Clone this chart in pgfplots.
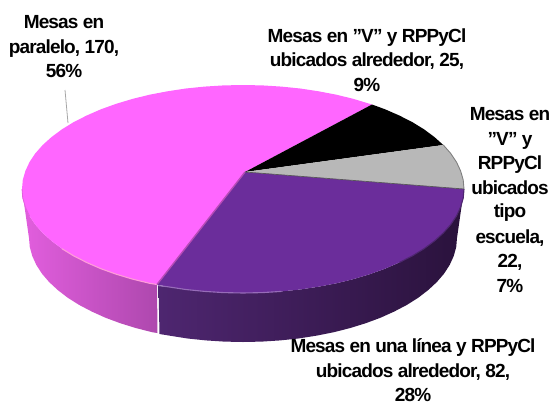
\documentclass[border=0pt]{standalone}
\usepackage{fontspec}
\setmainfont{Liberation Sans}[LetterSpace=-4.5]
\usepackage{pgfplots}
\pgfplotsset{compat=1.18}
\definecolor{cpink}{HTML}{FF66FF}
\definecolor{cpurple}{HTML}{6B2D9B}
\definecolor{cgrey}{HTML}{B8B8B8}
\definecolor{pinkL}{HTML}{E25EDE}
\definecolor{pinkR}{HTML}{AE48AE}
\definecolor{purpL}{HTML}{4E2670}
\definecolor{purpR}{HTML}{2A123C}
\newcommand{\lab}[3]{\node[anchor=base,inner sep=0pt,font=\fontsize{19}{24}\selectfont\bfseries] at (axis cs:#1,#2) {#3};}
\begin{document}
\begin{tikzpicture}
\useasboundingbox (0,0) rectangle (551pt,402pt);
\begin{axis}[
  at={(0,0)},anchor=south west,
  scale only axis,width=551pt,height=402pt,
  xmin=0,xmax=551,ymin=0,ymax=402,y dir=reverse,
  hide axis,clip=false]
% sides
\addplot[draw=none,left color=pinkL,right color=pinkR] coordinates {
(22,189)(22.8,198.1)(25.4,207.1)(29.5,215.9)(35.3,224.6)(42.7,233)(51.6,241)(62,248.7)(73.7,255.9)(86.7,262.5)(100.9,268.7)(116.2,274.2)(132.5,279.1)(149.6,283.3)(157,284.5)
(157.5,333)(152.6,332.3)(136,328.1)(120.2,323.2)(105.4,317.7)(91.7,311.5)(79.1,304.9)(67.7,297.7)(57.7,290)(49.1,282)(41.9,273.6)(36.3,264.9)(32.3,256.1)(29.8,247.1)(29,238)(22,189)};
\addplot[draw=none,left color=purpL,right color=purpR] coordinates {
(158.5,286)(167.4,286.7)(185.8,289.5)(204.6,291.4)(223.7,292.6)(243,293)(262.3,292.6)(281.4,291.4)(300.2,289.5)(318.6,286.7)(336.4,283.3)(353.5,279.1)(369.8,274.2)(385.1,268.7)(399.3,262.5)(412.3,255.9)(424,248.7)(434.4,241)(443.3,233)(450.7,224.6)(456.5,215.9)(460.6,207.1)(463.2,198.1)(464,189)
(457,238)(456.2,247.1)(453.7,256.1)(449.7,264.9)(444.1,273.6)(436.9,282)(428.3,290)(418.3,297.7)(406.9,304.9)(394.3,311.5)(380.6,317.7)(365.8,323.2)(350,328.1)(333.4,332.3)(316.2,335.7)(298.4,338.5)(280.2,340.4)(261.7,341.6)(243,342)(224.3,341.6)(205.8,340.4)(187.6,338.5)(169.8,335.7)(159.5,334)(158.5,286)};
% top slices
\addplot[fill=cpink,draw=none] coordinates {
(245,172)(372,104.5)(353.5,98.9)(336.4,94.7)(318.6,91.3)(300.2,88.5)(281.4,86.6)(262.3,85.4)(243,85)(223.7,85.4)(204.6,86.6)(185.8,88.5)(167.4,91.3)(149.6,94.7)(132.5,98.9)(116.2,103.8)(100.9,109.3)(86.7,115.5)(73.7,122.1)(62,129.3)(51.6,137)(42.7,145)(35.3,153.4)(29.5,162.1)(25.4,170.9)(22.8,179.9)(22,189)(22.8,198.1)(25.4,207.1)(29.5,215.9)(35.3,224.6)(42.7,233)(51.6,241)(62,248.7)(73.7,255.9)(86.7,262.5)(100.9,268.7)(116.2,274.2)(132.5,279.1)(149.6,283.3)(157,284.5)(245,172)};
\addplot[fill=black,draw=none] coordinates {
(245,172)(443.3,145)(434.4,137)(424,129.3)(412.3,122.1)(399.3,115.5)(385.1,109.3)(372,104.5)(245,172)};
\addplot[fill=cgrey,draw=none] coordinates {
(245,172)(464,189)(463.2,179.9)(460.6,170.9)(456.5,162.1)(450.7,153.4)(443.3,145)(245,172)};
\addplot[fill=cpurple,draw=none] coordinates {
(245,172)(157,284.5)(167.4,286.7)(185.8,289.5)(204.6,291.4)(223.7,292.6)(243,293)(262.3,292.6)(281.4,291.4)(300.2,289.5)(318.6,286.7)(336.4,283.3)(353.5,279.1)(369.8,274.2)(385.1,268.7)(399.3,262.5)(412.3,255.9)(424,248.7)(434.4,241)(443.3,233)(450.7,224.6)(456.5,215.9)(460.6,207.1)(463.2,198.1)(464,189)(245,172)};
% rims
\addplot[color=pink!60!cpink,line width=1.1pt] coordinates {
(62,248.7)(73.7,255.9)(86.7,262.5)(100.9,268.7)(116.2,274.2)(132.5,279.1)(149.6,283.3)(157,284.5)};
\addplot[color=pinkL,line width=0.8pt] coordinates {
(22,189)(22.8,198.1)(25.4,207.1)(29.5,215.9)};
\addplot[color=cpurple!70!white,line width=1.1pt] coordinates {
(158,285.5)(167.4,286.7)(185.8,289.5)(204.6,291.4)(223.7,292.6)(243,293)(262.3,292.6)(281.4,291.4)};
\addplot[color=purpL,line width=1.1pt] coordinates {
(399.3,262.5)(412.3,255.9)(424,248.7)(434.4,241)(443.3,233)(450.7,224.6)(456.5,215.9)(460.6,207.1)(463.2,198.1)(464,189)};
\addplot[color=gray,line width=0.9pt] coordinates {(464,189)(463.2,179.9)(460.6,170.9)(456.5,162.1)(450.7,153.4)(443.3,145)};
% slice edges
\addplot[color=pinkR!90!cpink,line width=1.4pt] coordinates {(245,172)(157,284.5)};
\addplot[color=black!65,line width=0.7pt] coordinates {(245,172)(464,189)};
% leader line
\addplot[color=black!35,line width=0.8pt] coordinates {(65,90)(68,123)};
% labels
\lab{64}{28}{Mesas en}
\lab{64}{53}{paralelo, 170,}
\lab{64}{77}{56\%}
\lab{367}{42}{Mesas en "V" y RPPyCl}
\lab{367}{66}{ubicados alrededor, 25,}
\lab{367}{91}{9\%}
\lab{510}{120}{Mesas en}
\lab{510}{145}{"V" y}
\lab{510}{169}{RPPyCl}
\lab{510}{194}{ubicados}
\lab{510}{217}{tipo}
\lab{510}{243}{escuela,}
\lab{510}{267}{22,}
\lab{510}{292}{7\%}
\lab{413}{352}{Mesas en una línea y RPPyCl}
\lab{413}{377}{ubicados alrededor, 82,}
\lab{413}{401}{28\%}
\end{axis}
\end{tikzpicture}
\end{document}
